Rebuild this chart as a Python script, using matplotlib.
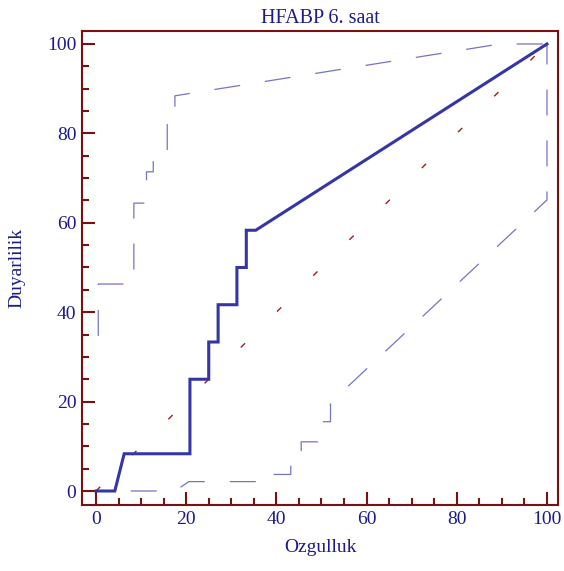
import matplotlib
matplotlib.use("Agg")
import matplotlib.pyplot as plt
from matplotlib.ticker import MultipleLocator

plt.rcParams['font.family'] = ['Liberation Serif', 'DejaVu Serif']
plt.rcParams['lines.scale_dashes'] = False

# ROC curve (specificity on x, sensitivity on y)
roc_x = [0, 4.17, 6.25, 20.83, 20.83, 25, 25, 27.08, 27.08, 31.25, 31.25, 33.33, 33.33, 35.42, 100]
roc_y = [0, 0, 8.33, 8.33, 25, 25, 33.33, 33.33, 41.67, 41.67, 50, 50, 58.33, 58.33, 100]

# upper confidence bound
upper_x = [0.5, 0.5, 8.4, 8.4, 11.2, 11.2, 12.7, 12.7, 15.8, 15.8, 17.5, 17.5, 89.6, 100]
upper_y = [34.7, 46.3, 46.3, 64.4, 64.4, 71.4, 71.4, 76.0, 76.0, 84.5, 84.5, 88.4, 100, 100]

# lower confidence bound
lower_x = [0, 17.5, 20.6, 37.0, 37.0, 43.2, 43.2, 45.5, 45.5, 49.2, 49.2, 52.0, 52.0, 100, 100]
lower_y = [0, 0, 2.1, 2.1, 3.7, 3.7, 6.5, 6.5, 11.0, 11.0, 15.5, 15.5, 19.75, 65.1, 100]

# chance line
diag_x = [0, 100]
diag_y = [0, 100]

text_col = '#1c1c88'
frame_col = '#7a1010'
roc_col = '#3535a6'
band_col = '#7474c4'
diag_col = '#a01c1c'

fig = plt.figure(figsize=(5.64, 5.71), dpi=100)
ax = fig.add_axes([0.1454, 0.1156, 0.8440, 0.8301])

ax.plot(diag_x, diag_y, color=diag_col, lw=1.0, linestyle=(0, (4.3, 32.4)))
ax.plot(upper_x, upper_y, color=band_col, lw=0.9, linestyle=(0, (18.7, 18.0)))
ax.plot(lower_x, lower_y, color=band_col, lw=0.9, linestyle=(11.7, (18.7, 18.0)))
ax.plot(roc_x, roc_y, color=roc_col, lw=2.2, solid_joinstyle='miter')

ax.set_xlim(-3.1, 102.45)
ax.set_ylim(-3.13, 102.9)

ax.xaxis.set_major_locator(MultipleLocator(20))
ax.xaxis.set_minor_locator(MultipleLocator(5))
ax.yaxis.set_major_locator(MultipleLocator(20))
ax.yaxis.set_minor_locator(MultipleLocator(5))

ax.tick_params(which='major', direction='in', length=9.5, width=1.5,
               color=frame_col, labelcolor=text_col, labelsize=14, pad=4)
ax.tick_params(which='minor', direction='in', length=5, width=1.5, color=frame_col)

for s in ax.spines.values():
    s.set_color(frame_col)
    s.set_linewidth(1.5)

ax.set_title('HFABP 6. saat', color=text_col, fontsize=14.5, pad=6)
ax.set_xlabel('Ozgulluk', color=text_col, fontsize=14)
ax.set_ylabel('Duyarlilik', color=text_col, fontsize=14)
ax.xaxis.set_label_coords(0.5, -0.072)
ax.yaxis.set_label_coords(-0.118, 0.5)

fig.savefig('out.png', dpi=100)
